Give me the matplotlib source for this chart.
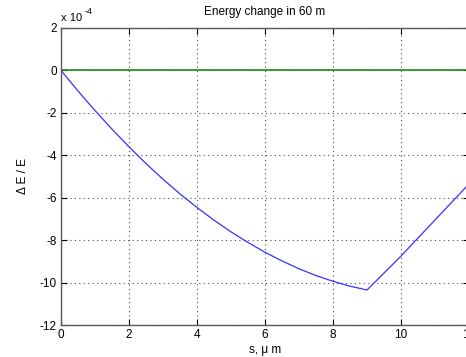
import matplotlib
matplotlib.use("Agg")
import matplotlib.pyplot as plt
from matplotlib.ticker import FuncFormatter

plt.rcParams['font.family'] = ['Liberation Sans', 'DejaVu Sans']
plt.rcParams['font.size'] = 8

s_um = [0, 0.5, 1, 1.5, 2, 2.5, 3, 3.5, 4, 4.5, 5, 5.5, 6, 6.5, 7, 7.5, 8, 8.5, 9, 10, 11, 12]
dE_E = [0, -0.97, -1.89, -2.77, -3.60, -4.39, -5.13, -5.82, -6.46, -7.06, -7.61, -8.11,
        -8.57, -8.98, -9.35, -9.67, -9.94, -10.17, -10.35, -8.75, -7.05, -5.35]
ref_s = [0, 12]
ref_val = [0, 0]
xticks = [0, 2, 4, 6, 8, 10, 12]
yticks = [2, 0, -2, -4, -6, -8, -10, -12]

W, H = 466, 357
fig = plt.figure(figsize=(W / 100, H / 100), dpi=100)
left, right, top, bottom = 61, 469, 28, 325
ax = fig.add_axes([left / W, (H - bottom) / H, (right - left) / W, (bottom - top) / H])

ax.plot(s_um, dE_E, color=(0.2, 0.2, 1.0), lw=0.9)
ax.plot(ref_s, ref_val, color=(0.1, 0.55, 0.1), lw=1.2)

ax.set_xlim(0, 12)
ax.set_ylim(-12, 2)
ax.set_xticks(xticks)
ax.set_yticks(yticks)
ax.yaxis.set_major_formatter(FuncFormatter(lambda v, p: ('%d' % v).replace('\u2212', '-')))
ax.xaxis.set_major_formatter(FuncFormatter(lambda v, p: '%d' % v))
ax.grid(True, linestyle=(0, (1, 3)), color=(0.3, 0.3, 0.3), lw=0.8)
ax.tick_params(direction='in', length=4, width=0.8, colors='black', labelsize=8.5, pad=3,
               top=True, right=True)
for sp in ax.spines.values():
    sp.set_color((0.35, 0.35, 0.35))
    sp.set_linewidth(1.0)

ax.set_title('Energy change in 60 m', fontsize=8.5, pad=9)
ax.set_xlabel('s, \u03bc m', fontsize=8.5, labelpad=2)
ax.set_ylabel('\u0394 E / E', fontsize=8.5, labelpad=0)
ax.yaxis.set_label_coords(-32 / (right - left), 0.5)

fig.text(61 / W, 1 - 18 / H, 'x 10', fontsize=8, va='center', ha='left')
fig.text(85 / W, 1 - 12 / H, '-4', fontsize=6.5, va='center', ha='left')

fig.savefig('out.png', dpi=100)
